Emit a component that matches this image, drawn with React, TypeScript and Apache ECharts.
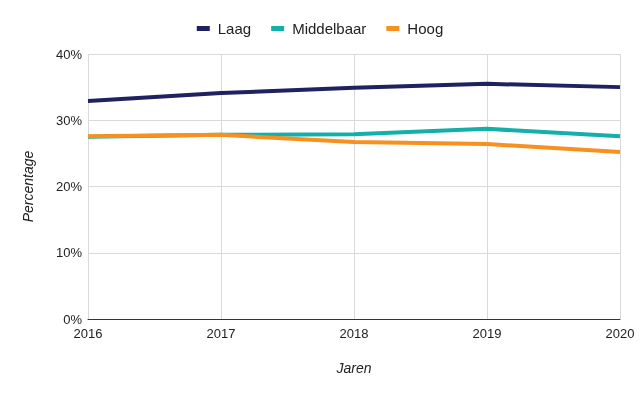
import React, { useEffect, useRef } from "react";
import * as echarts from "echarts";

const years = ["2016", "2017", "2018", "2019", "2020"];
const laag = [32.9, 34.1, 34.9, 35.5, 35.0];
const middelbaar = [27.5, 27.8, 27.9, 28.7, 27.6];
const hoog = [27.6, 27.8, 26.7, 26.4, 25.2];

const FONT = "'Liberation Sans', Arial, sans-serif";

export default function App() {
  const ref = useRef<HTMLDivElement>(null);
  useEffect(() => {
    const chart = echarts.init(ref.current!, null, { renderer: "svg" });
    const mk = (name: string, data: number[], color: string) => ({
      name,
      type: "line",
      data,
      symbol: "none",
      lineStyle: { width: 4, color },
      itemStyle: { color },
    });
    chart.setOption({
      animation: false,
      textStyle: { fontFamily: FONT },
      legend: {
        top: 16,
        left: "center",
        itemWidth: 13,
        itemHeight: 5,
        itemGap: 20,
        icon: "rect",
        textStyle: { fontSize: 15, color: "#222", fontFamily: FONT, padding: [0, 0, 0, 3] },
        data: ["Laag", "Middelbaar", "Hoog"],
      },
      grid: { left: 88, right: 20, top: 54, bottom: 77, containLabel: false },
      xAxis: {
        type: "category",
        data: years,
        boundaryGap: false,
        name: "Jaren",
        nameLocation: "middle",
        nameGap: 42,
        nameTextStyle: { fontStyle: "italic", fontSize: 14, color: "#222", fontFamily: FONT },
        axisLine: { lineStyle: { color: "#333", width: 1 } },
        axisTick: { show: false },
        axisLabel: { color: "#222", fontSize: 13, margin: 8, fontFamily: FONT },
        splitLine: { show: true, lineStyle: { color: "#d9d9d9" } },
      },
      yAxis: {
        type: "value",
        min: 0,
        max: 40,
        interval: 10,
        name: "Percentage",
        nameLocation: "middle",
        nameGap: 53,
        nameTextStyle: { fontStyle: "italic", fontSize: 14, color: "#222", fontFamily: FONT },
        axisLine: { show: false },
        axisTick: { show: false },
        axisLabel: { color: "#222", fontSize: 13, margin: 6, formatter: "{value}%", fontFamily: FONT },
        splitLine: { lineStyle: { color: "#d9d9d9" } },
      },
      series: [
        mk("Laag", laag, "#1f2160"),
        mk("Middelbaar", middelbaar, "#13b0aa"),
        mk("Hoog", hoog, "#f7901e"),
      ],
    });
    return () => chart.dispose();
  }, []);
  return (
    <div
      ref={ref}
      style={{ position: "fixed", left: 0, top: 0, width: 640, height: 396 }}
    />
  );
}
